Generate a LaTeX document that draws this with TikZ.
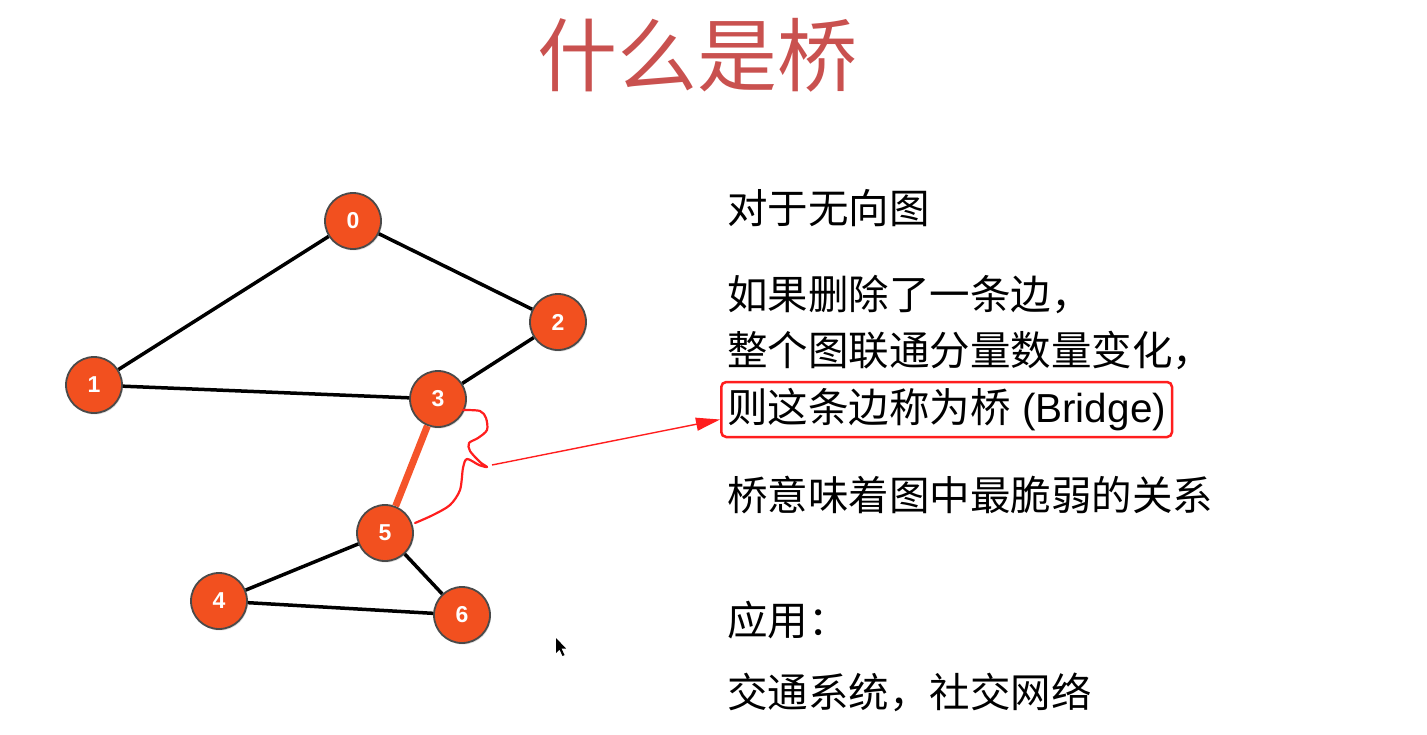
\documentclass[tikz,border=0pt]{standalone}
\usepackage{fontspec}
\setmainfont{Noto Sans CJK SC}
\newfontfamily\numfont{Liberation Sans}
\usepackage{tikz}
\usetikzlibrary{calc,arrows.meta}
\usetikzlibrary{positioning}
\usetikzlibrary{shadows}
\definecolor{br-title}{HTML}{C9514F}
\definecolor{br-node}{HTML}{F2501F}
\definecolor{br-border}{HTML}{4A4A4A}
\definecolor{br-bridge}{HTML}{F5542A}
\definecolor{br-red}{HTML}{FF1E1E}

\begin{document}
\begin{tikzpicture}[x=1pt, y=-1pt, >=Latex,
    vertex/.style={circle, minimum size=56pt, inner sep=0pt, fill=br-node, draw=br-border,
        line width=1.8pt, text=white, font=\numfont\bfseries\fontsize{23}{26}\selectfont,
        drop shadow={opacity=0.25, shadow xshift=1pt, shadow yshift=-1.5pt}},
    edge/.style={line width=3.5pt, black},
    bridge/.style={line width=7pt, br-bridge},
    txt/.style={anchor=west, inner sep=0pt, font=\fontsize{40.5}{48}\selectfont},
    scribble/.style={br-red, line width=2.2pt, line join=round, line cap=round},
    pointer/.style={br-red, line width=1.4pt, -{Triangle[length=24pt, width=13pt]}}]
    \useasboundingbox (0,0) rectangle (1427,734);

    % --- Title ---
    \node[text=br-title, font=\fontsize{80}{90}\selectfont] (title) at (697,55) {什么是桥};

    % --- Graph ---
    \node[vertex] (n0) at (353,221) {0};
    \node[vertex] (n1) at (94,385) {1};
    \node[vertex] (n2) at (558,322) {2};
    \node[vertex] (n3) at (438,399) {3};
    \node[vertex] (n4) at (219,601) {4};
    \node[vertex] (n5) at (385,533) {5};
    \node[vertex] (n6) at (462,615) {6};
    \draw[edge] (n0) -- (n1);
    \draw[edge] (n0) -- (n2);
    \draw[edge] (n1) -- (n3);
    \draw[edge] (n2) -- (n3);
    \draw[edge] (n5) -- (n4);
    \draw[edge] (n5) -- (n6);
    \draw[edge] (n4) -- (n6);
    \draw[bridge] (n3) -- (n5);

    % --- Text ---
    \node[txt] (t1) at (727,208) {对于无向图};
    \node[txt] (t2) at (727,295) {如果删除了一条边，};
    \node[txt] (t3) at (727,350) {整个图联通分量数量变化，};
    \node[txt, draw=br-red, line width=2.5pt, rounded corners=5pt, inner xsep=6pt,
        minimum height=55pt] (bridgebox) at (720,409.5) {则这条边称为桥{\numfont\ (Bridge)}};
    \node[txt] (t5) at (727,495) {桥意味着图中最脆弱的关系};
    \node[txt] (t6) at (727,620) {应用：};
    \node[txt] (t7) at (727,692) {交通系统，社交网络};

    % --- Hand-drawn mark and arrow ---
    \draw[scribble] plot[smooth, tension=0.5] coordinates {
        (463,410) (480,411) (486,418) (487,430) (478,438) (469,443) (470,451)
        (480,462) (487,467) (479,465) (467,459) (463,468) (460,490) (450,505)
        (433,515) (415,523)
    };
    \coordinate (tail) at (492,465);
    \draw[pointer] (tail) -- ([yshift=-10pt]bridgebox.west);

    % --- Cursor ---
    \fill[black] (556,638) -- (556,653) -- (559.5,649.5) -- (562.5,656) -- (564.5,655)
        -- (561.5,648.5) -- (566,648.5) -- cycle;
\end{tikzpicture}
\end{document}
